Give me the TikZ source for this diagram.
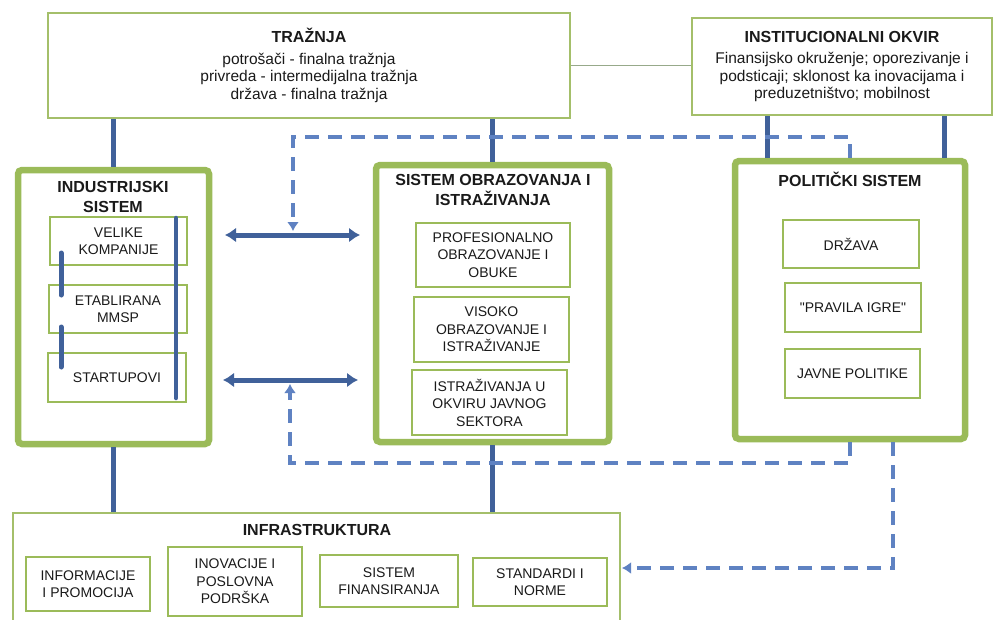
\documentclass[tikz,border=0pt]{standalone}
\usepackage{fontspec}
\setmainfont{Liberation Sans}
\usetikzlibrary{arrows.meta}
\definecolor{grn}{HTML}{9BBB59}
\definecolor{grnt}{HTML}{A4BF6A}
\definecolor{blu}{HTML}{40619A}
\definecolor{dblu}{HTML}{5F82C2}
\definecolor{txt}{HTML}{1A1A1A}
\definecolor{thinln}{HTML}{97A98A}
\newcommand{\ttlf}{\bfseries\fontsize{16}{20}\selectfont}
\newcommand{\bodyf}{\fontsize{15.5}{17.5}\selectfont}
\newcommand{\boxf}{\fontsize{14}{17.5}\selectfont}
\begin{document}
\begin{tikzpicture}[x=1pt,y=-1pt,
  topbox/.style={draw=grnt,line width=2.2pt,fill=white,inner sep=0pt,align=center,text=txt},
  outerbox/.style={draw=grn,line width=6.5pt,rounded corners=4pt,fill=white,inner sep=0pt},
  inbox/.style={draw=grn,line width=2pt,fill=white,inner sep=0pt,align=center,text=txt,font=\boxf},
  ttl/.style={align=center,text=txt,font=\ttlf,inner sep=0pt},
  conn/.style={draw=blu,line width=5pt},
  dsh/.style={draw=dblu,line width=3.5pt,dash pattern=on 14pt off 9pt},
  dtip/.style={-{Latex[length=9pt,width=12pt]}},
  dbl/.style={{Latex[length=11pt,width=15pt]}-{Latex[length=11pt,width=15pt]}}
]
\useasboundingbox (0,0) rectangle (995,619);
\fill[white] (0,0) rectangle (995,619);

% top boxes
\node[topbox,font=\bodyf,minimum width=522pt,minimum height=105pt] (tr) at (309,65.5)
  {{\ttlf TRAŽNJA}\\[4pt]potrošači - finalna tražnja\\privreda - intermedijalna tražnja\\država - finalna tražnja};
\node[topbox,font=\bodyf,minimum width=300pt,minimum height=97pt] (io) at (842,66.5)
  {{\ttlf INSTITUCIONALNI OKVIR}\\[4pt]Finansijsko okruženje; oporezivanje i\\podsticaji; sklonost ka inovacijama i\\preduzetništvo; mobilnost};
\draw[thinln,line width=1pt] (tr.east) -- (tr.east -| io.west);

% main system boxes
\node[outerbox,minimum width=191pt,minimum height=274pt] (is) at (113.5,307) {};
\node[outerbox,minimum width=233pt,minimum height=277pt] (so) at (492.5,303.5) {};
\node[outerbox,minimum width=230pt,minimum height=278pt] (ps) at (850,300) {};
\node[ttl] (ist) at (113,197) {INDUSTRIJSKI\\SISTEM};
\node[ttl] (sot) at (493,190) {SISTEM OBRAZOVANJA I\\ISTRAŽIVANJA};
\node[ttl] (pst) at (850,179) {POLITIČKI SISTEM};

% inner boxes industrijski
\node[inbox,minimum width=137pt,minimum height=48pt] (vk) at (118.5,241) {VELIKE\\KOMPANIJE};
\node[inbox,minimum width=138pt,minimum height=48pt] (em) at (118,309) {ETABLIRANA\\MMSP};
\node[inbox,minimum width=138pt,minimum height=49pt] (st) at (117,377.5) {STARTUPOVI};

% inner boxes obrazovanje
\node[inbox,minimum width=154pt,minimum height=64pt] (pro) at (493,255) {PROFESIONALNO\\OBRAZOVANJE I\\OBUKE};
\node[inbox,minimum width=155pt,minimum height=65pt] (vis) at (491.5,329.5) {VISOKO\\OBRAZOVANJE I\\ISTRAŽIVANJE};
\node[inbox,minimum width=155pt,minimum height=65pt] (istr) at (489.5,402.5) {ISTRAŽIVANJA U\\OKVIRU JAVNOG\\SEKTORA};

% inner boxes politicki
\node[inbox,minimum width=136pt,minimum height=48pt] (drz) at (851,244) {DRŽAVA};
\node[inbox,minimum width=136pt,minimum height=49pt] (pra) at (853,307.5) {\textquotedbl PRAVILA IGRE\textquotedbl};
\node[inbox,minimum width=135pt,minimum height=49pt] (jav) at (852.5,373.5) {JAVNE POLITIKE};

% infrastruktura
\node[topbox,minimum width=607pt,minimum height=127pt] (inf) at (316.5,576.5) {};
\node[ttl] (inft) at (317,530) {INFRASTRUKTURA};
\node[inbox,minimum width=124pt,minimum height=54pt] (ip) at (88,584) {INFORMACIJE\\I PROMOCIJA};
\node[inbox,minimum width=134pt,minimum height=69pt] (ino) at (235,581.5) {INOVACIJE I\\POSLOVNA\\PODRŠKA};
\node[inbox,minimum width=138pt,minimum height=52pt] (sf) at (389,581) {SISTEM\\FINANSIRANJA};
\node[inbox,minimum width=134pt,minimum height=48pt] (sn) at (540,582) {STANDARDI I\\NORME};

% solid connectors
\draw[conn] (is.north) -- (is.north |- tr.south);
\draw[conn] (so.north) -- (so.north |- tr.south);
\coordinate (iox1) at (767,0);
\coordinate (iox2) at (944,0);
\draw[conn] (iox1 |- ps.north) -- (iox1 |- io.south);
\draw[conn] (iox2 |- ps.north) -- (iox2 |- io.south);
\draw[conn] (is.south) -- (is.south |- inf.north);
\draw[conn] (so.south) -- (so.south |- inf.north);

% lines inside industrijski sistem
\coordinate (v1a) at (176,218); \coordinate (v1b) at (176,398);
\coordinate (v2a) at (61,253);  \coordinate (v2b) at (61,295);
\coordinate (v3a) at (61,327);  \coordinate (v3b) at (61,367);
\draw[conn,line width=4.5pt,line cap=round] (v1a) -- (v1b);
\draw[conn,line cap=round] (v2a) -- (v2b);
\draw[conn,line cap=round] (v3a) -- (v3b);

% double arrows
\coordinate (a1l) at (225,235); \coordinate (a1r) at (360,235);
\coordinate (a2l) at (223,380); \coordinate (a2r) at (358,380);
\draw[conn,dbl] (a1l) -- (a1r);
\draw[conn,dbl] (a2l) -- (a2r);

% dashed feedback paths
\coordinate (h1) at (293,137);  \coordinate (dt1) at (293,231);
\coordinate (h2) at (290,463);  \coordinate (dt2) at (290,384);
\coordinate (s3) at (893,442);  \coordinate (dt3) at (622,568);
\draw[dsh,dtip] (ps.north) |- (h1) -- (dt1);
\draw[dsh,dtip] (ps.south) |- (h2) -- (dt2);
\draw[dsh,dtip] (s3) |- (dt3);
\end{tikzpicture}
\end{document}
